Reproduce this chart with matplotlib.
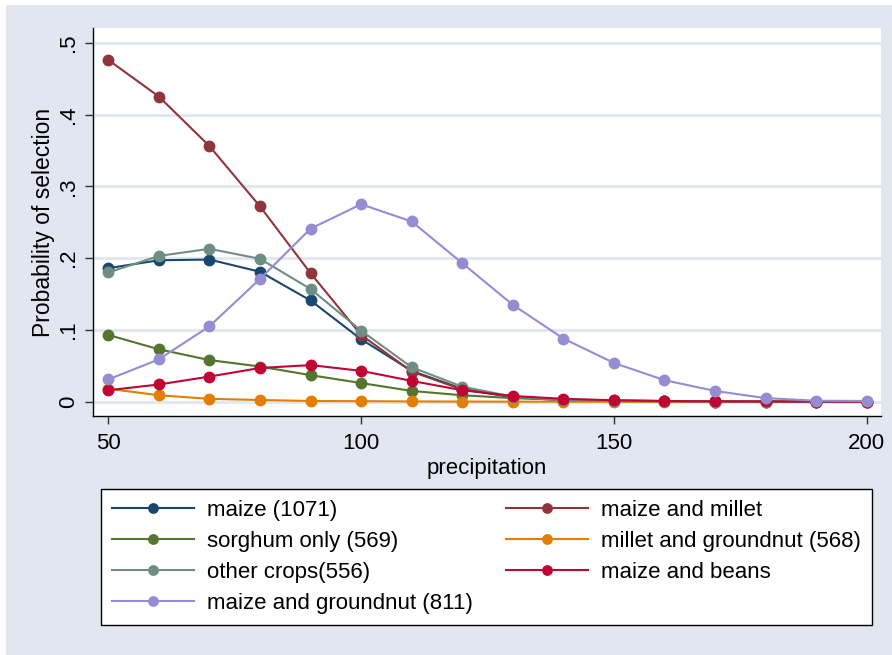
import matplotlib
matplotlib.use("Agg")
import matplotlib.pyplot as plt
from matplotlib.patches import Rectangle

plt.rcParams['font.family'] = ['Liberation Sans', 'DejaVu Sans']

precip = [50, 60, 70, 80, 90, 100, 110, 120, 130, 140, 150, 160, 170, 180, 190, 200]

maize = [0.186, 0.197, 0.198, 0.181, 0.141, 0.087, 0.043, 0.018, 0.006, 0.002, 0.001, 0.0005, 0.0002, 0.0001, 0.0, 0.0]
maize_millet = [0.476, 0.425, 0.356, 0.272, 0.179, 0.093, 0.042, 0.017, 0.007, 0.003, 0.001, 0.0005, 0.0002, 0.0001, 0.0, 0.0]
sorghum = [0.093, 0.073, 0.058, 0.049, 0.037, 0.026, 0.015, 0.009, 0.005, 0.003, 0.002, 0.001, 0.0005, 0.0003, 0.0001, 0.0]
millet_gn = [0.018, 0.009, 0.004, 0.0024, 0.001, 0.0007, 0.0004, 0.0002, 0.0001, 0.0, 0.0, 0.0, 0.0, 0.0, 0.0, 0.0]
other = [0.180, 0.203, 0.213, 0.199, 0.157, 0.099, 0.048, 0.021, 0.007, 0.002, 0.001, 0.0005, 0.0002, 0.0001, 0.0, 0.0]
maize_beans = [0.016, 0.024, 0.035, 0.047, 0.051, 0.043, 0.029, 0.016, 0.008, 0.004, 0.002, 0.001, 0.0005, 0.0003, 0.0001, 0.0]
maize_gn = [0.031, 0.059, 0.105, 0.171, 0.241, 0.275, 0.251, 0.193, 0.135, 0.088, 0.054, 0.030, 0.015, 0.005, 0.0014, 0.001]

labels = ["maize (1071)", "maize and millet", "sorghum only (569)", "millet and groundnut (568)",
          "other crops(556)", "maize and beans", "maize and groundnut (811)"]
colors = ["#1A476F", "#90353B", "#55752F", "#E37E00", "#6E8E84", "#C10534", "#938DD2"]
series = [maize, maize_millet, sorghum, millet_gn, other, maize_beans, maize_gn]

bg = "#E1E6F0"
fig = plt.figure(figsize=(8.92, 6.55), dpi=100, facecolor=bg)
# thin white margin at top and left of the image
fig.patches.append(Rectangle((0, 1 - 5/655), 1, 5/655, transform=fig.transFigure,
                             facecolor="white", edgecolor="none", zorder=-1))
fig.patches.append(Rectangle((0, 0), 6/892, 1, transform=fig.transFigure,
                             facecolor="white", edgecolor="none", zorder=-1))

ax = fig.add_axes([93/892, 1-416/655, (881-93)/892, (416-28)/655])
ax.set_facecolor("white")

handles = []
for ys, c, lab in zip(series, colors, labels):
    h, = ax.plot(precip, ys, color=c, lw=1.5, marker='o', ms=7.5, mec=c, mfc=c, label=lab)
    handles.append(h)

ax.set_xlim(46.97, 202.83)
ax.set_ylim(-0.0199, 0.5205)
ax.set_xticks([50, 100, 150, 200])
ax.set_xticklabels(["50", "100", "150", "200"])
ax.set_yticks([0, 0.1, 0.2, 0.3, 0.4, 0.5])
ax.set_yticklabels(["0", ".1", ".2", ".3", ".4", ".5"], rotation=90, va='center')
ax.yaxis.grid(True, color="#E3E7F1", lw=2.2)
ax.set_axisbelow(True)
for s in ["top", "right"]:
    ax.spines[s].set_visible(False)
for s in ["left", "bottom"]:
    ax.spines[s].set_color("black")
    ax.spines[s].set_linewidth(1.0)
ax.tick_params(axis='both', direction='out', length=6, width=1.0, color="#333333",
               labelsize=16)
ax.tick_params(axis='x', pad=6)
ax.tick_params(axis='y', pad=4)
ax.set_xlabel("precipitation", fontsize=16, labelpad=3)
ax.set_ylabel("Probability of selection", fontsize=16.5, labelpad=2)

order = [0, 2, 4, 6, 1, 3, 5]
leg = fig.legend([handles[i] for i in order], [labels[i] for i in order],
                 loc='upper center', bbox_to_anchor=(101/892, 1-627/655, (872-101)/892, (627-489)/655),
                 mode='expand', ncol=2, fontsize=16, frameon=True, fancybox=False,
                 framealpha=1, edgecolor='black', handlelength=3.7, handletextpad=0.58,
                 labelspacing=0.45, borderpad=0.5, borderaxespad=0, columnspacing=1.0,
                 markerscale=0.9)
leg.get_frame().set_linewidth(1.0)
leg.get_frame().set_facecolor('white')

fig.savefig("out.png", dpi=100, facecolor=bg)
